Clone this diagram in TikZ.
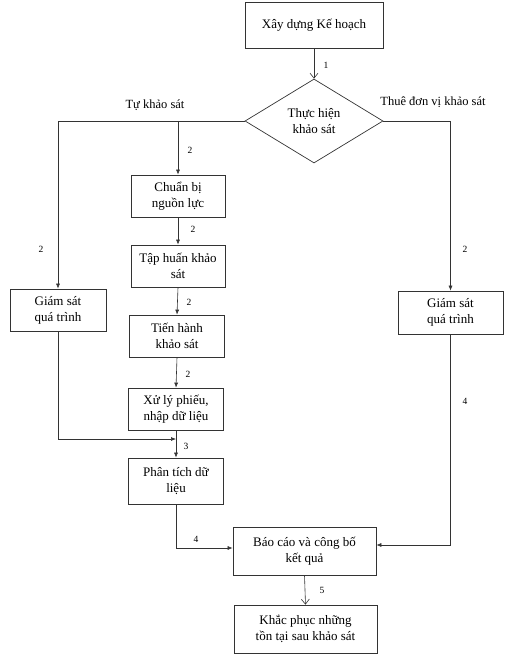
\documentclass[tikz,border=0pt]{standalone}
\usepackage{fontspec}
\setmainfont{Liberation Serif}
\usetikzlibrary{shapes.geometric,arrows.meta}
\begin{document}
\begin{tikzpicture}[x=1pt,y=-1pt,
  box/.style={draw=black!80,line width=0.7pt,rectangle,inner sep=0pt,align=center,font=\fontsize{13}{16}\selectfont},
  dia/.style={draw=black!80,line width=0.7pt,diamond,inner sep=0pt,aspect=1.64,align=center,font=\fontsize{13}{16}\selectfont},
  lab/.style={font=\fontsize{9.5}{11}\selectfont,inner sep=0pt},
  brl/.style={font=\fontsize{12.5}{16}\selectfont,inner sep=0pt},
  arr/.style={draw=black!80,line width=0.6pt,-{Latex[length=5pt,width=4pt]}},
  oarr/.style={draw=black!80,line width=0.6pt,-{Straight Barb[length=5pt,width=8pt]}},
  ln/.style={draw=black!80,line width=0.6pt}]
\useasboundingbox (0,0) rectangle (516,671);
\node[box,minimum width=138pt,minimum height=46pt] (plan) at (314,25) {Xây dựng Kế hoạch};
\node[dia,minimum width=138pt,minimum height=84pt] (dec) at (314,121) {Thực hiện\\khảo sát};
\node[box,minimum width=94pt,minimum height=42pt] (cb) at (178,196) {Chuẩn bị\\nguồn lực};
\node[box,minimum width=94pt,minimum height=42pt] (th) at (178,266) {Tập huấn khảo\\sát};
\node[box,minimum width=95pt,minimum height=42pt] (tk) at (177,336) {Tiến hành\\khảo sát};
\node[box,minimum width=95pt,minimum height=42pt] (xl) at (176,409) {Xử lý phiếu,\\nhập dữ liệu};
\node[box,minimum width=96pt,minimum height=42pt] (gsL) at (58,310) {Giám sát\\quá trình};
\node[box,minimum width=105pt,minimum height=43pt] (gsR) at (450.5,312.5) {Giám sát\\quá trình};
\node[box,minimum width=95pt,minimum height=46pt] (pt) at (176,481) {Phân tích dữ\\liệu};
\node[box,minimum width=143pt,minimum height=48pt] (bc) at (304.5,551) {Báo cáo và công bố\\kết quả};
\node[box,minimum width=143pt,minimum height=48pt] (kp) at (305.5,629) {Khắc phục những\\tồn tại sau khảo sát};
\coordinate (j) at (176,439);
\draw[oarr] (plan.south) -- (dec.north);
\draw[arr] (dec.west) -| (gsL.north);
\draw[arr] (dec.west -| cb.north) -- (cb.north);
\draw[arr] (dec.east) -| (gsR.north);
\draw[arr] (cb.south) -- (th.north);
\draw[arr] (th.south) -- (tk.north);
\draw[arr] (tk.south) -- (xl.north);
\draw[arr] (xl.south) -- (pt.north);
\draw[arr] (gsL.south) |- (j);
\draw[arr] (pt.south) |- ([yshift=3pt]bc.west);
\draw[arr] (gsR.south) |- ([yshift=6pt]bc.east);
\draw[oarr] (bc.south) -- (kp.north);
\node[lab] at (326,65) {1};
\node[brl] at (155,105) {Tự khảo sát};
\node[brl] at (433,102) {Thuê đơn vị khảo sát};
\node[lab] at (190,150) {2};
\node[lab] at (193,229) {2};
\node[lab] at (41,249) {2};
\node[lab] at (465,249) {2};
\node[lab] at (189,302) {2};
\node[lab] at (188,374) {2};
\node[lab] at (465,401) {4};
\node[lab] at (186,446) {3};
\node[lab] at (196,539) {4};
\node[lab] at (322,590) {5};
\end{tikzpicture}
\end{document}
